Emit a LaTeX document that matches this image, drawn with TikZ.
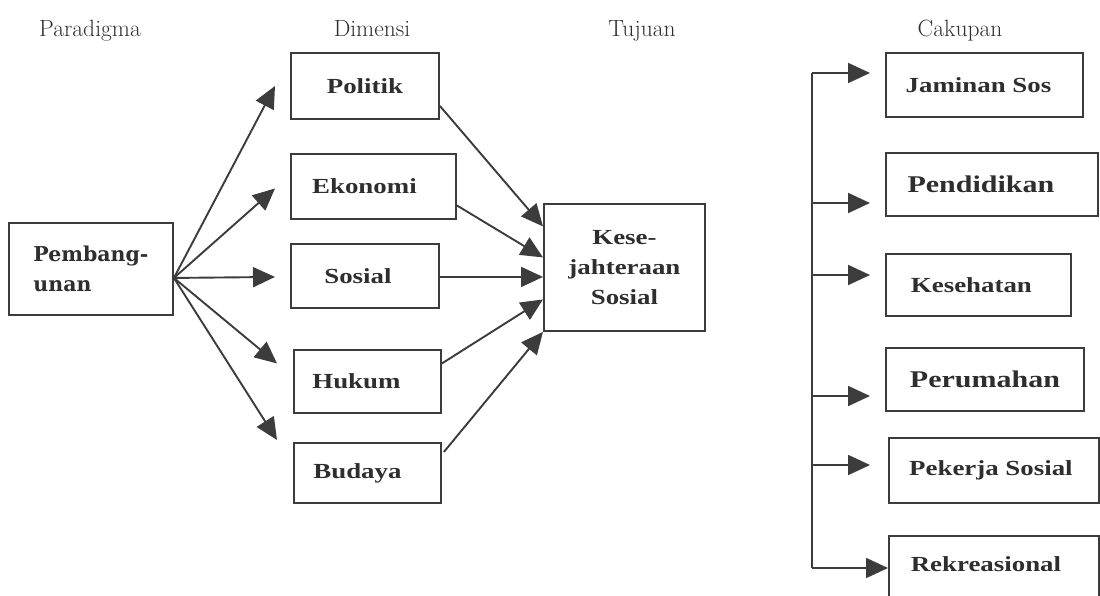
\documentclass[tikz,border=0pt]{standalone}
\usepackage{fontspec}
\usetikzlibrary{arrows.meta,calc}
\newfontfamily\boxfont[FakeStretch=1.25]{Liberation Serif}
\newfontfamily\pembfont{DejaVu Serif}
\definecolor{linec}{HTML}{3C3C3C}
\definecolor{textc}{HTML}{2E2E2E}
\begin{document}
\begin{tikzpicture}[x=1pt,y=-1pt,
  box/.style={draw=linec, line width=1.9pt, anchor=north west, inner sep=0pt,
    text=textc, font=\boxfont\bfseries\fontsize{21.5}{30}\selectfont},
  bigtxt/.style={font=\boxfont\bfseries\fontsize{24}{30}\selectfont},
  head/.style={anchor=base, text=textc, font=\fontsize{23.5}{26}\selectfont},
  arr/.style={draw=linec, line width=1.9pt, -{Triangle[length=22pt,width=20pt]}},
  ln/.style={draw=linec, line width=1.9pt}]
\useasboundingbox (0,0) rectangle (1100,596);
\clip (0,0) rectangle (1100,596);
% headers
\node[head] (h1) at (90,37) {Paradigma};
\node[head] (h2) at (372,37) {Dimensi};
\node[head] (h3) at (642,37) {Tujuan};
\node[head] (h4) at (960,37) {Cakupan};
% boxes
\node[box, minimum width=164, minimum height=92, align=left,
  font=\pembfont\bfseries\fontsize{20.5}{30}\selectfont] (pemb) at (8,222) {Pembang-\\unan};
\node[box, minimum width=148, minimum height=66] (polit) at (290,52) {Politik};
\node[box, minimum width=165, minimum height=65] (ekon) at (290,153) {\hspace*{-18pt}Ekonomi};
\node[box, minimum width=148, minimum height=64] (sos) at (290,243) {\hspace*{-14pt}Sosial};
\node[box, minimum width=147, minimum height=63] (huk) at (293,349) {\hspace*{-22pt}Hukum};
\node[box, minimum width=147, minimum height=60] (bud) at (293,442) {\hspace*{-20pt}Budaya};
\node[box, minimum width=161, minimum height=127, align=center] (kes) at (543,203) {Kese-\\jahteraan\\Sosial};
\node[box, minimum width=197, minimum height=64] (jam) at (885,52) {\hspace*{-12pt}Jaminan Sos};
\node[box, bigtxt, minimum width=212, minimum height=63] (pend) at (885,152) {\hspace*{-22pt}Pendidikan};
\node[box, minimum width=185, minimum height=62] (keseh) at (885,253) {\hspace*{-14pt}Kesehatan};
\node[box, bigtxt, minimum width=198, minimum height=63] (perum) at (885,347) {Perumahan};
\node[box, minimum width=210, minimum height=65] (pek) at (888,437) {\hspace*{-6pt}Pekerja Sosial};
\node[box, minimum width=210, minimum height=80, text height=10pt, text depth=18pt] (rek) at (888,535) {\hspace*{-16pt}Rekreasional};
% paradigm -> dimensions
\coordinate (o) at ([yshift=-9pt]pemb.east);
\draw[arr] (o) -- ([xshift=-15pt]polit.west);
\draw[arr] (o) -- ([xshift=-15pt,yshift=-2pt]ekon.west);
\draw[arr] (o) -- ([xshift=-15pt,yshift=-1pt]sos.west);
\draw[arr] (o) -- ([xshift=-16pt,yshift=18pt]huk.west);
\draw[arr] (o) -- ([xshift=-16pt,yshift=2pt]bud.north west);
% dimensions -> goal
\draw[arr] ([yshift=-20pt]polit.east) -- ([yshift=41pt]kes.west);
\draw[arr] ([yshift=-19pt]ekon.east) -- ([yshift=10pt]kes.west);
\draw[arr] ([yshift=-1pt]sos.east) -- ([yshift=-1pt]sos.east -| kes.west);
\draw[arr] ([yshift=18pt]huk.east) -- ([yshift=-32pt]kes.west);
\draw[arr] ([xshift=2pt,yshift=21pt]bud.east) -- (kes.south west);
% scope bus
\coordinate (b1) at (812,73);
\coordinate (b2) at (812,203);
\coordinate (b3) at (812,275);
\coordinate (b4) at (812,396);
\coordinate (b5) at (812,465);
\coordinate (b6) at (812,568);
\draw[ln] (b1) -- (b6);
\draw[arr, shorten >=15pt] (b1) -- (b1 -| jam.west);
\draw[arr, shorten >=15pt] (b2) -- (b2 -| pend.west);
\draw[arr, shorten >=15pt] (b3) -- (b3 -| keseh.west);
\draw[arr, shorten >=15pt] (b4) -- (b4 -| perum.west);
\draw[arr, shorten >=18pt] (b5) -- (b5 -| pek.west);
\draw[arr] (b6) -- (b6 -| rek.west);
\end{tikzpicture}
\end{document}
